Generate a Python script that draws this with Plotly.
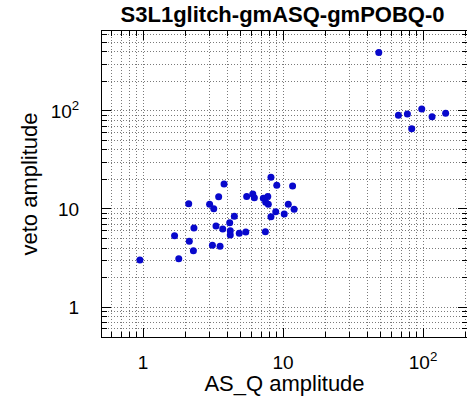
import plotly.graph_objects as go

as_q = [48.3, 66.7, 77.3, 83.0, 97.9, 116.0, 145.0,
        0.95, 1.80, 1.68, 2.29, 2.14, 2.31, 2.12, 2.99, 3.20, 3.79, 3.47, 3.32,
        3.71, 3.13, 3.55, 4.16, 4.49, 4.20, 4.20, 4.87, 5.42, 5.50, 6.08, 6.24,
        7.23, 7.52, 7.78, 7.85, 7.48, 8.20, 9.02, 8.20, 8.87, 10.2, 10.9, 11.7, 12.0]
veto = [394.0, 90.6, 93.0, 66.0, 105.0, 87.5, 94.7,
        3.02, 3.11, 5.34, 3.75, 4.68, 6.40, 11.3, 11.2, 10.07, 18.0, 13.3, 6.7,
        6.25, 4.26, 4.16, 7.25, 8.43, 6.01, 5.43, 5.65, 5.83, 13.4, 14.2, 13.0,
        12.9, 11.7, 13.4, 11.2, 5.87, 21.1, 17.5, 8.35, 9.38, 8.89, 11.2, 17.2, 9.93]

tick_vals = [1, 10, 100]
tick_text = ["1", "10", "10<sup>2</sup>"]

FONT = "Liberation Sans, Arial, Helvetica, sans-serif"
GRID = "#7a7a7a"
DASH = "1px,2px"

fig = go.Figure(go.Scatter(
    x=as_q, y=veto, mode="markers",
    marker=dict(color="#0808cc", size=7, line=dict(width=0)),
))

axis_common = dict(
    type="log",
    showline=True, linecolor="black", linewidth=1, mirror="ticks",
    ticks="inside", ticklen=9, tickcolor="black",
    showgrid=True, gridcolor=GRID, griddash=DASH, gridwidth=1,
    zeroline=False,
    tickvals=tick_vals, ticktext=tick_text,
    tickfont=dict(family=FONT, size=19, color="black"),
    minor=dict(dtick="D1", ticks="inside", ticklen=5, tickcolor="black",
               showgrid=True, gridcolor=GRID, griddash=DASH, gridwidth=1),
)

fig.update_layout(
    width=467, height=396,
    margin=dict(l=102, r=0, t=31, b=59),
    paper_bgcolor="white", plot_bgcolor="white",
    showlegend=False,
    title=dict(text="<b>S3L1glitch-gmASQ-gmPOBQ-0</b>", x=0.605, xanchor="center",
               y=0.963, yanchor="middle",
               font=dict(family=FONT, size=22, color="black")),
    xaxis=dict(axis_common, range=[-0.293, 2.314], ticklabelstandoff=8,
               title=dict(text="AS_Q amplitude", standoff=6,
                          font=dict(family=FONT, size=22, color="black"))),
    yaxis=dict(axis_common, range=[-0.306, 2.816], ticklabelstandoff=18,
               title=dict(text="veto amplitude", standoff=6,
                          font=dict(family=FONT, size=22, color="black"))),
)

fig.write_html("out.html")
